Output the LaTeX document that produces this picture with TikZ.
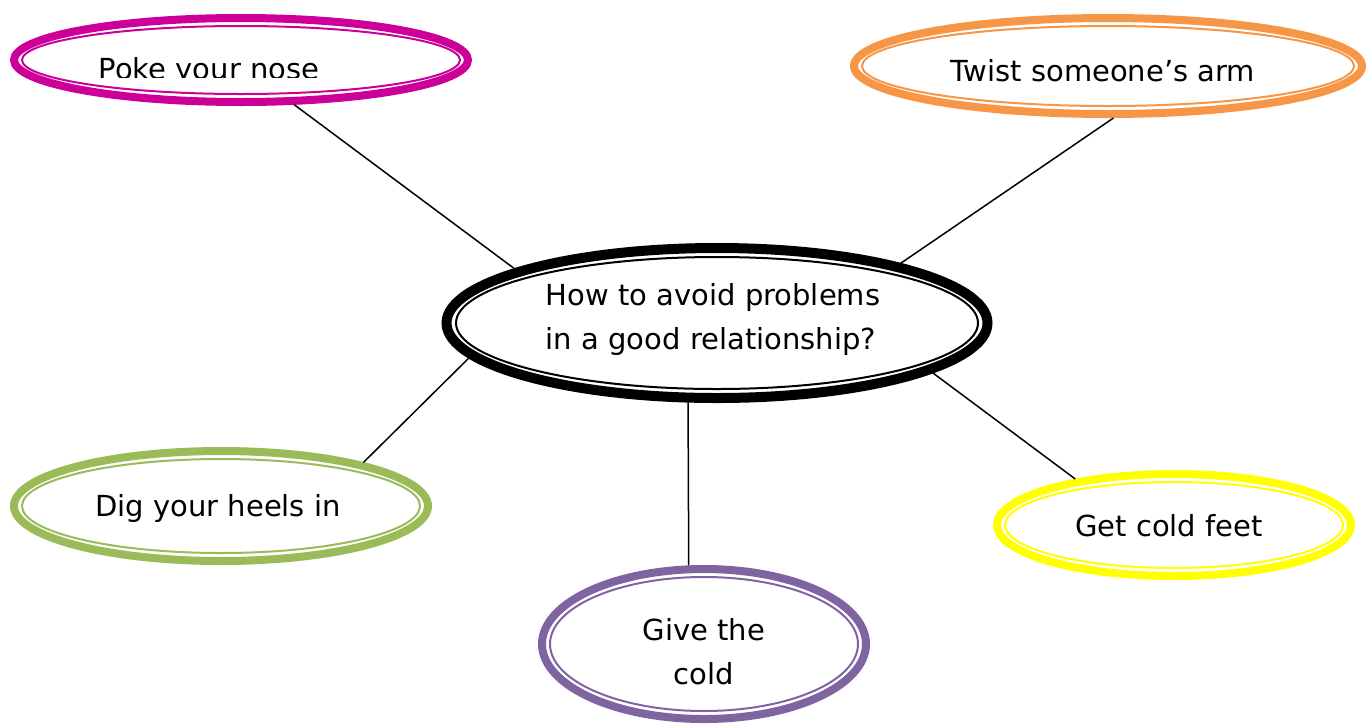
\documentclass[tikz,border=0pt]{standalone}
\usepackage{fontspec}
\setmainfont{DejaVu Sans}
\usetikzlibrary{shapes.geometric}
\definecolor{cpink}{HTML}{CC0099}
\definecolor{corange}{HTML}{F79646}
\definecolor{cgreen}{HTML}{9BBB59}
\definecolor{cyellow}{HTML}{FFFF00}
\definecolor{cpurple}{HTML}{8064A2}
\tikzset{
  ring/.style={ellipse, draw=#1, line width=8pt, inner sep=0pt, fill=white},
  innerring/.style={ellipse, draw=#1, line width=2pt, inner sep=0pt},
  lbl/.style={font=\fontsize{29}{44}\selectfont, inner sep=0pt},
  conn/.style={line width=1.5pt, black}
}
\begin{document}
\begin{tikzpicture}[x=1pt,y=-1pt]
\useasboundingbox[fill=white] (0,0) rectangle (1371,724);
% outer rings
\node[ring=cpink, minimum width=454pt, minimum height=84pt] (pink) at (241,60) {};
\node[innerring=cpink, minimum width=438pt, minimum height=68pt] (pinkin) at (241,60) {};
\node[ring=corange, minimum width=508pt, minimum height=96pt] (orange) at (1108,66) {};
\node[innerring=corange, minimum width=492pt, minimum height=80pt] (orangein) at (1108,66) {};
\node[ring=black, line width=10pt, minimum width=541pt, minimum height=150pt] (center) at (717,323) {};
\node[innerring=black, minimum width=522pt, minimum height=132pt] (centerin) at (717,323) {};
\node[ring=cgreen, minimum width=414pt, minimum height=110pt] (green) at (221,506) {};
\node[innerring=cgreen, minimum width=398pt, minimum height=94pt] (greenin) at (221,506) {};
\node[ring=cyellow, minimum width=354pt, minimum height=102pt] (yellow) at (1174,525) {};
\node[innerring=cyellow, minimum width=338pt, minimum height=86pt] (yellowin) at (1174,525) {};
\node[ring=cpurple, minimum width=324pt, minimum height=150pt] (purple) at (704,644) {};
\node[innerring=cpurple, minimum width=308pt, minimum height=134pt] (purplein) at (704,644) {};
% connectors
\draw[conn] (pink.-40) -- (center.165.3);
\draw[conn] (orange.-84) -- (center.18.6);
\draw[conn] (green.17.1) -- (center.188.1);
\draw[conn] (yellow.155.5) -- (center.-13.7);
\draw[conn] (purple.101.6) -- (center.-110);
% labels
\begin{scope}
\clip (60,40) rectangle (400,77);
\node[lbl, anchor=base] (tpink) at (209,79) {Poke your nose};
\end{scope}
\node[lbl, anchor=base] (torange) at (1103,81) {Twist someone’s arm};
\node[lbl, align=left] (tcenter) at (713,319) {How to avoid problems\\in a good relationship?};
\node[lbl, anchor=base] (tgreen) at (218,516) {Dig your heels in};
\node[lbl, anchor=base] (tyellow) at (1169,536) {Get cold feet};
\node[lbl, align=center] (tpurple) at (704,652) {Give the\\cold};
\end{tikzpicture}
\end{document}
